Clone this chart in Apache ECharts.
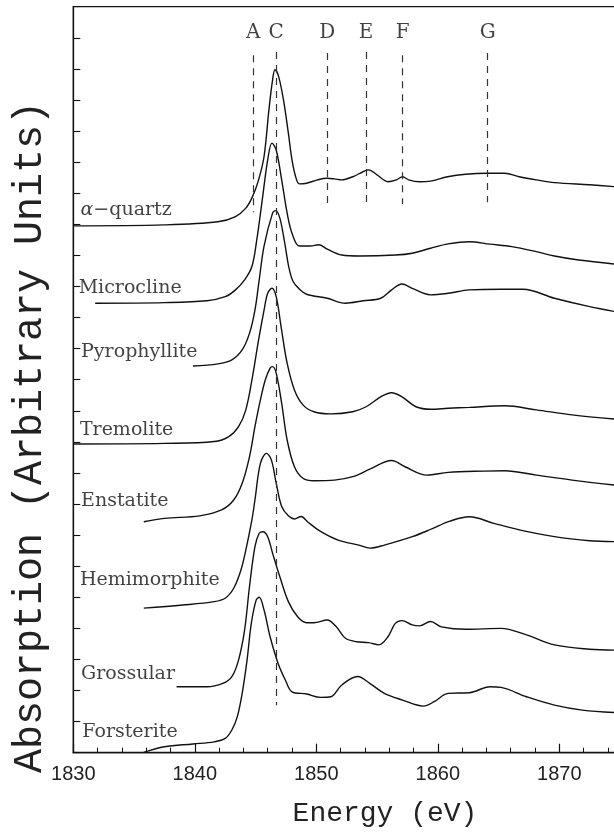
<!DOCTYPE html>
<html>
<head>
<meta charset="utf-8">
<script src="https://cdn.jsdelivr.net/npm/echarts@6/dist/echarts.min.js"></script>
<style>
html, body { margin: 0; padding: 0; background: #fff; }
#main { width: 614px; height: 833px; }
</style>
</head>
<body>
<div id="main"></div>
<script>
// spectra, [energy eV, absorption (offset, arbitrary units)]
var quartz = [[1830,16.95],[1837.5,16.98],[1841.9,17.08],[1843.35,17.25],[1844.2,17.52],[1844.75,17.89],[1845.25,18.43],[1845.7,19.18],[1846.1,20.68],[1846.4,21.64],[1846.6,21.97],[1846.9,21.75],[1847.3,21.0],[1847.7,19.93],[1848.0,19.07],[1848.3,18.53],[1848.6,18.3],[1849.2,18.32],[1850.1,18.43],[1850.9,18.48],[1851.5,18.46],[1852.1,18.43],[1853.0,18.53],[1853.85,18.69],[1854.3,18.75],[1855.0,18.59],[1855.9,18.37],[1856.6,18.43],[1857.1,18.53],[1857.6,18.43],[1858.5,18.37],[1859.4,18.39],[1860.8,18.53],[1862.3,18.61],[1864.05,18.64],[1865.5,18.64],[1866.7,18.53],[1868.1,18.43],[1869.6,18.34],[1872.5,18.27],[1874.6,18.21]];
var microcline = [[1831.8,14.46],[1837.5,14.48],[1841.0,14.54],[1842.5,14.67],[1843.35,14.89],[1844.1,15.21],[1844.7,15.64],[1845.1,16.5],[1845.55,17.78],[1846.0,19.07],[1846.35,19.61],[1846.7,19.39],[1847.15,18.43],[1847.6,17.36],[1848.0,16.71],[1848.6,16.3],[1849.5,16.3],[1850.2,16.34],[1850.9,16.2],[1852.1,16.01],[1853.55,15.98],[1856.5,16.01],[1857.9,16.07],[1859.4,16.23],[1860.85,16.37],[1862.6,16.44],[1864.3,16.36],[1866.1,16.28],[1868.1,16.12],[1869.6,15.98],[1871.6,15.85],[1874.6,15.72]];
var pyrophyllite = [[1839.85,12.44],[1841.9,12.51],[1843.05,12.64],[1843.9,12.96],[1844.5,13.49],[1844.95,14.24],[1845.3,15.21],[1845.7,16.3],[1846.4,17.36],[1846.65,17.44],[1847.0,17.2],[1847.4,16.4],[1847.75,15.6],[1848.1,15.15],[1848.6,14.92],[1849.2,14.75],[1850.9,14.62],[1852.4,14.46],[1853.85,14.54],[1855.3,14.62],[1856.2,14.89],[1857.05,15.08],[1857.9,14.94],[1859.4,14.73],[1860.85,14.78],[1862.6,14.89],[1865.2,14.91],[1867.0,14.91],[1869.6,14.62],[1872.5,14.35],[1874.6,14.19]];
var tremolite = [[1830,9.93],[1837.5,9.95],[1841.6,10.01],[1842.8,10.17],[1843.6,10.49],[1844.2,11.03],[1844.75,12.1],[1845.25,13.28],[1845.7,14.24],[1846.0,14.78],[1846.35,14.94],[1846.7,14.67],[1847.1,13.71],[1847.6,12.53],[1848.2,11.67],[1848.9,11.19],[1849.8,10.97],[1851.2,10.9],[1853.0,10.97],[1854.1,11.13],[1855.3,11.45],[1856.2,11.58],[1857.05,11.45],[1858.2,11.13],[1859.4,11.05],[1860.85,11.08],[1862.6,11.11],[1865.5,11.16],[1868.1,11.03],[1871.05,10.87],[1874.6,10.73]];
var enstatite = [[1835.8,7.43],[1837.5,7.54],[1840.4,7.62],[1842.2,7.81],[1843.2,8.13],[1843.9,8.67],[1844.5,9.52],[1844.95,10.49],[1845.4,11.35],[1845.8,11.99],[1846.2,12.37],[1846.4,12.42],[1846.7,12.21],[1847.15,11.24],[1847.6,10.06],[1848.2,9.2],[1848.9,8.83],[1849.8,8.75],[1851.5,8.77],[1853.0,8.88],[1854.4,9.12],[1856.2,9.4],[1857.3,9.2],[1859.1,8.93],[1860.85,9.02],[1863.8,9.06],[1865.5,9.07],[1868.1,8.93],[1871.05,8.77],[1874.6,8.61]];
var hemimorphite = [[1835.8,4.65],[1839.0,4.75],[1841.6,4.86],[1842.5,4.97],[1843.2,5.29],[1843.8,5.88],[1844.2,6.52],[1844.7,7.49],[1844.95,8.13],[1845.4,9.31],[1845.9,9.63],[1846.3,9.42],[1846.7,8.67],[1847.15,7.92],[1847.7,7.62],[1848.2,7.52],[1848.75,7.6],[1849.3,7.42],[1850.35,7.12],[1851.8,6.84],[1853.5,6.68],[1854.4,6.58],[1855.6,6.68],[1857.9,6.95],[1859.5,7.2],[1861.0,7.45],[1862.6,7.59],[1864.6,7.38],[1866.7,7.17],[1869.6,6.95],[1872.5,6.82],[1874.6,6.79]];
var grossular = [[1838.5,2.12],[1841.0,2.12],[1842.3,2.23],[1843.05,2.45],[1843.6,2.98],[1844.1,3.95],[1844.5,5.34],[1844.95,6.63],[1845.3,7.06],[1845.6,7.11],[1846.0,6.95],[1846.4,6.42],[1847.0,5.66],[1847.7,4.86],[1848.45,4.38],[1849.2,4.18],[1849.8,4.18],[1850.9,4.27],[1851.65,4.05],[1852.4,3.68],[1853.3,3.57],[1854.3,3.54],[1855.15,3.47],[1855.9,3.73],[1856.5,4.16],[1857.05,4.25],[1857.9,4.11],[1858.5,4.08],[1859.4,4.22],[1860.3,4.05],[1862.3,3.97],[1865.2,4.0],[1867.3,3.79],[1869.6,3.47],[1872.5,3.33],[1874.6,3.3]];
var forsterite = [[1835.8,0.01],[1837.5,0.19],[1839.85,0.28],[1841.6,0.35],[1842.5,0.46],[1843.05,0.73],[1843.5,1.16],[1843.9,1.91],[1844.3,2.98],[1844.65,4.16],[1845.05,4.91],[1845.3,5.0],[1845.7,4.59],[1846.2,3.73],[1846.85,2.88],[1847.45,2.34],[1848.0,1.96],[1849.2,1.89],[1850.35,1.78],[1851.2,1.8],[1852.1,2.18],[1853.4,2.45],[1854.4,2.23],[1855.6,1.91],[1857.05,1.7],[1858.8,1.5],[1859.7,1.64],[1860.85,1.91],[1862.6,1.93],[1864.3,2.12],[1865.2,2.1],[1867.3,1.8],[1869.6,1.53],[1871.9,1.37],[1874.6,1.29]];

var spectra = [quartz, microcline, pyrophyllite, tremolite, enstatite, hemimorphite, grossular, forsterite];
var mineralNames = ['α-quartz', 'Microcline', 'Pyrophyllite', 'Tremolite', 'Enstatite', 'Hemimorphite', 'Grossular', 'Forsterite'];
// where each name sits: [energy, absorption]
var nameAnchors = [[1830.55,17.46],[1830.4,14.95],[1830.6,12.9],[1830.5,10.38],[1830.6,8.11],[1830.5,5.56],[1830.6,2.53],[1830.7,0.68]];

// feature markers
var markLetters = ['A', 'C', 'D', 'E', 'F', 'G'];
var markEnergy = [1844.8, 1846.7, 1850.9, 1854.1, 1857.1, 1864.1];
var markTop = [22.44, 22.54, 22.51, 22.54, 22.44, 22.51];
var markBottom = [17.39, 1.53, 17.56, 17.62, 17.65, 17.71];
var letterLevel = 23.16;

var xTicks = [1830, 1840, 1850, 1860, 1870, 1880];

var myChart = echarts.init(document.getElementById('main'));

var series = [];
for (var i = 0; i < spectra.length; i++) {
    series.push({
        name: mineralNames[i],
        type: 'line',
        data: spectra[i],
        showSymbol: false,
        smooth: 0.35,
        lineStyle: {color: '#111', width: 1.4}
    });
}

// dashed marker lines
var markData = [];
for (var k = 0; k < markEnergy.length; k++) {
    markData.push([{coord: [markEnergy[k], markTop[k]]}, {coord: [markEnergy[k], markBottom[k]]}]);
}
series[0].markLine = {
    silent: true,
    symbol: ['none', 'none'],
    label: {show: false},
    lineStyle: {color: '#333', width: 1.2, type: [7, 6]},
    data: markData
};

// mineral names
var nameData = [];
for (var n = 0; n < mineralNames.length; n++) {
    nameData.push({value: [nameAnchors[n][0], nameAnchors[n][1]], name: mineralNames[n]});
}
series.push({
    type: 'scatter',
    data: nameData,
    symbolSize: 1,
    itemStyle: {color: 'rgba(0,0,0,0)'},
    silent: true,
    label: {
        show: true,
        position: 'right',
        distance: 0,
        fontFamily: 'DejaVu Serif',
        fontSize: 19,
        color: '#111',
        formatter: function (p) {
            if (p.name === 'α-quartz') return '{g|α}−quartz';
            return p.name;
        },
        rich: {
            g: {fontFamily: 'DejaVu Serif', fontStyle: 'italic', fontSize: 19, color: '#111'}
        }
    }
});

// letters above the dashed lines
var letterData = [];
for (var m = 0; m < markLetters.length; m++) {
    letterData.push({value: [markEnergy[m], letterLevel], name: markLetters[m]});
}
series.push({
    type: 'scatter',
    data: letterData,
    symbolSize: 1,
    itemStyle: {color: 'rgba(0,0,0,0)'},
    silent: true,
    label: {
        show: true,
        position: 'inside',
        fontFamily: 'DejaVu Serif',
        fontSize: 20,
        color: '#111',
        formatter: function (p) { return p.name; }
    }
});

var option = {
    animation: false,
    backgroundColor: '#fff',
    grid: {
        left: 73.3,
        top: 6.7,
        right: -66.8,
        bottom: 80.3,
        outerBoundsMode: 'none',
        containLabel: false,
        show: true,
        borderColor: '#111',
        borderWidth: 1.3
    },
    xAxis: {
        type: 'value',
        min: 1830,
        max: 1880,
        interval: 10,
        axisLine: {lineStyle: {color: '#111', width: 1.3}},
        axisTick: {inside: true, length: 9, lineStyle: {color: '#111', width: 1.2}},
        minorTick: {show: true, splitNumber: 5, length: 5, lineStyle: {color: '#111', width: 1}},
        splitLine: {show: false},
        axisLabel: {
            margin: 12,
            fontFamily: 'Liberation Sans',
            fontSize: 20,
            color: '#222',
            formatter: function (v) { return xTicks.indexOf(v) >= 0 ? String(v) : ''; }
        }
    },
    yAxis: {
        type: 'value',
        min: 0,
        max: 24,
        interval: 1,
        axisLine: {show: true, lineStyle: {color: '#111', width: 1.3}},
        axisTick: {show: true, inside: true, length: 7, lineStyle: {color: '#111', width: 1.1}},
        axisLabel: {show: false},
        splitLine: {show: false}
    },
    graphic: [
        {
            type: 'text',
            x: 30,
            y: 437,
            rotation: Math.PI / 2,
            style: {
                text: 'Absorption (Arbitrary Units)',
                font: '40px "Liberation Mono"',
                fill: '#222',
                align: 'center',
                verticalAlign: 'middle'
            }
        },
        {
            type: 'text',
            x: 385,
            y: 814,
            style: {
                text: 'Energy (eV)',
                font: '28px "Liberation Mono"',
                fill: '#222',
                align: 'center',
                verticalAlign: 'middle'
            }
        }
    ],
    series: series
};
myChart.setOption(option);
</script>
</body>
</html>
